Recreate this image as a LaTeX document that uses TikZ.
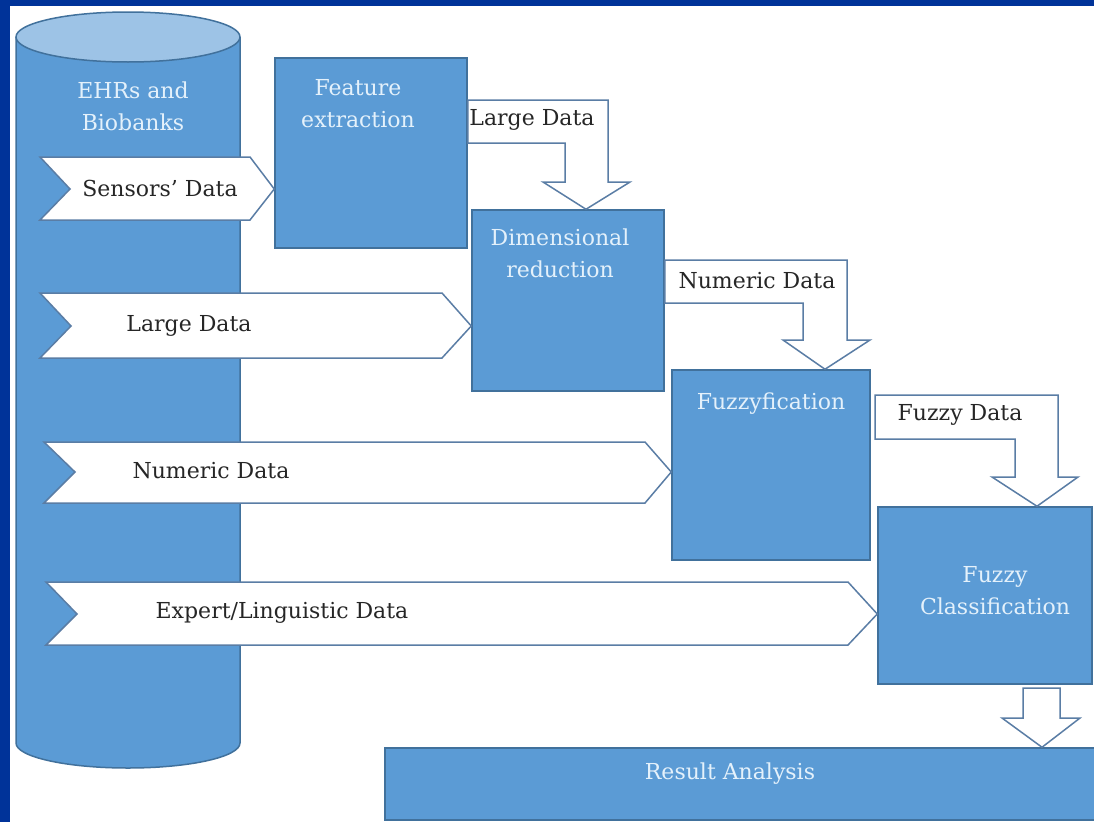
\documentclass[tikz,border=0pt]{standalone}
\usepackage{fontspec}
\setmainfont{DejaVu Serif}
\definecolor{frameblue}{HTML}{003399}
\definecolor{boxfill}{HTML}{5B9BD5}
\definecolor{boxline}{HTML}{41719C}
\definecolor{cyltop}{HTML}{9DC3E6}
\definecolor{boxtext}{HTML}{E4F1FB}
\definecolor{arrowline}{HTML}{5A7DA5}
\begin{document}
\begin{tikzpicture}[x=1pt,y=-1pt,line join=miter,
  box/.style={draw=boxline,fill=boxfill,line width=1.5pt,inner sep=0pt},
  blk/.style={draw=arrowline,fill=white,line width=1.5pt},
  boxtxt/.style={text=boxtext,font=\fontsize{22}{32}\selectfont,align=center},
  datatxt/.style={text=black!85,font=\fontsize{22}{32}\selectfont}]
\useasboundingbox (0,0) rectangle (1094,822);
\clip (0,0) rectangle (1094,822);
\fill[frameblue] (0,0) rectangle (1094,822);
\fill[white] (10,6) rectangle (1094,822);
% store
\draw[box] (16,37) -- (16,743) arc[start angle=180,end angle=0,x radius=112,y radius=25] -- (240,37);
\draw[box,fill=cyltop] (128,37) ellipse[x radius=112,y radius=25];
\node[boxtxt] (ehr) at (133,106) {EHRs and\\Biobanks};
% steps
\node[box,minimum width=192pt,minimum height=190pt] (fe) at (371,153) {};
\node[box,minimum width=192pt,minimum height=181pt] (dr) at (568,300.5) {};
\node[box,minimum width=198pt,minimum height=190pt] (fz) at (771,465) {};
\node[box,minimum width=214pt,minimum height=177pt] (fc) at (985,595.5) {};
\node[box,minimum width=715pt,minimum height=72pt] (ra) at (742.5,784) {};
\node[boxtxt] (fetxt) at (358,104) {Feature\\extraction};
\node[boxtxt] (drtxt) at (560,253) {Dimensional\\reduction};
\node[boxtxt] (fztxt) at (771,404) {Fuzzyfication};
\node[boxtxt] (fctxt) at (995,591) {Fuzzy\\Classification};
\node[boxtxt] (ratxt) at (730,774) {Result Analysis};
% inputs from the store
\draw[blk] (40,157) -- (250,157) -- (fe.west |- 0,189) -- (250,220) -- (40,220) -- (70,189) -- cycle;
\draw[blk] (40,293) -- (442,293) -- (dr.west |- 0,326) -- (442,358) -- (40,358) -- (71,326) -- cycle;
\draw[blk] (44,442) -- (645,442) -- (fz.west |- 0,472) -- (645,503) -- (44,503) -- (75,472) -- cycle;
\draw[blk] (46,582) -- (848,582) -- (fc.west |- 0,614) -- (848,645) -- (46,645) -- (77,614) -- cycle;
\node[datatxt] (sensin) at (160,188) {Sensors’ Data};
\node[datatxt] (largein) at (189,326) {Large Data};
\node[datatxt] (numin) at (211,471) {Numeric Data};
\node[datatxt] (expin) at (282,613) {Expert/Linguistic Data};
% step to step
\draw[blk] (fe.east |- 0,100) -- (608,100) -- (608,182) -- (630,182) -- (586,0 |- dr.north) -- (543,182) -- (565,182) -- (565,143) -- (fe.east |- 0,143) -- cycle;
\draw[blk] (dr.east |- 0,260) -- (847,260) -- (847,340) -- (870,340) -- (825,0 |- fz.north) -- (783,340) -- (803,340) -- (803,303) -- (dr.east |- 0,303) -- cycle;
\draw[blk] (875,395) -- (1058,395) -- (1058,477) -- (1078,477) -- (1037,0 |- fc.north) -- (992,477) -- (1015,477) -- (1015,439) -- (875,439) -- cycle;
\draw[blk] (1023,688) -- (1060,688) -- (1060,718) -- (1080,718) -- (1042,0 |- ra.north) -- (1002,718) -- (1023,718) -- cycle;
\node[datatxt] (largeout) at (532,120) {Large Data};
\node[datatxt] (numout) at (757,281) {Numeric Data};
\node[datatxt] (fuzout) at (960,415) {Fuzzy Data};
\end{tikzpicture}
\end{document}
